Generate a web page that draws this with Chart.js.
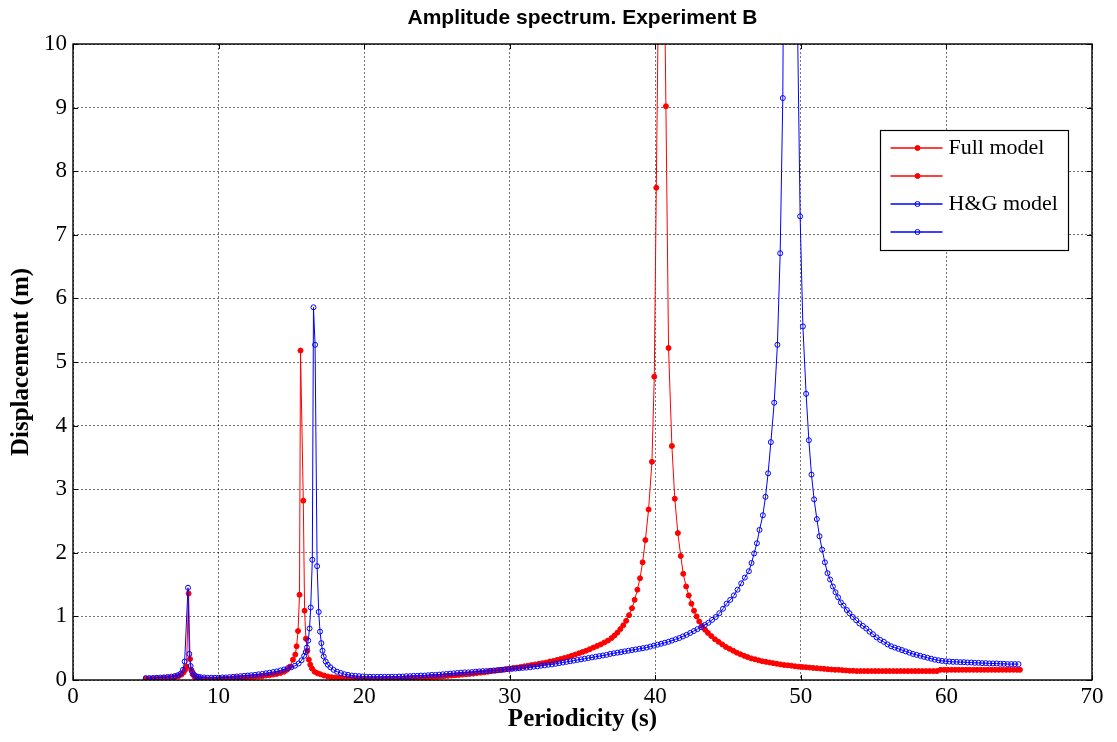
<!DOCTYPE html>
<html>
<head>
<meta charset="utf-8">
<title>Amplitude spectrum. Experiment B</title>
<script src="https://cdn.jsdelivr.net/npm/chart.js@4.4.1/dist/chart.umd.min.js"></script>
<style>
  html, body { margin: 0; padding: 0; background: #fff; }
  #wrap { width: 1117px; height: 742px; }
</style>
</head>
<body>
<div id="wrap"><canvas id="spectrum" width="1117" height="742"></canvas></div>
<script>

// Full model: periodicity (s) and displacement (m)
const fullPeriod = [
    5.00, 5.25, 5.50, 5.75, 6.00, 6.25, 6.50, 6.75, 7.00, 7.25,
    7.45, 7.60, 7.70, 7.80, 7.94, 8.04, 8.12, 8.22, 8.35, 8.50,
    8.75, 9.00, 9.25, 9.50, 9.75, 10.00, 10.25, 10.50, 10.75, 11.00,
    11.25, 11.50, 11.75, 12.00, 12.25, 12.50, 12.75, 13.00, 13.25, 13.50,
    13.75, 14.00, 14.25, 14.50, 14.70, 14.90, 15.11, 15.27, 15.36, 15.46,
    15.56, 15.63, 15.82, 15.91, 16.00, 16.10, 16.20, 16.30, 16.42, 16.60,
    16.80, 17.00, 17.25, 17.50, 17.75, 18.00, 18.25, 18.50, 18.75, 19.00,
    19.25, 19.50, 19.75, 20.00, 20.25, 20.50, 20.75, 21.00, 21.25, 21.50,
    21.75, 22.00, 22.25, 22.50, 22.75, 23.00, 23.25, 23.50, 23.75, 24.00,
    24.25, 24.50, 24.75, 25.00, 25.25, 25.50, 25.75, 26.00, 26.25, 26.50,
    26.75, 27.00, 27.25, 27.50, 27.75, 28.00, 28.25, 28.50, 28.75, 29.00,
    29.25, 29.50, 29.75, 30.00, 30.25, 30.50, 30.75, 31.00, 31.25, 31.50,
    31.75, 32.00, 32.25, 32.50, 32.75, 33.00, 33.25, 33.50, 33.75, 34.00,
    34.25, 34.50, 34.75, 35.00, 35.25, 35.50, 35.75, 36.00, 36.25, 36.50,
    36.75, 37.00, 37.20, 37.40, 37.60, 37.80, 38.00, 38.20, 38.40, 38.58,
    38.77, 38.95, 39.13, 39.32, 39.54, 39.77, 39.93, 40.07, 40.29, 40.51,
    40.73, 40.91, 41.14, 41.34, 41.55, 41.75, 41.92, 42.12, 42.30, 42.48,
    42.66, 42.84, 43.02, 43.22, 43.42, 43.62, 43.85, 44.10, 44.35, 44.60,
    44.85, 45.10, 45.35, 45.60, 45.85, 46.10, 46.35, 46.60, 46.85, 47.10,
    47.35, 47.60, 47.85, 48.10, 48.35, 48.60, 48.85, 49.10, 49.35, 49.60,
    49.85, 50.10, 50.35, 50.60, 50.85, 51.10, 51.35, 51.60, 51.85, 52.10,
    52.35, 52.60, 52.85, 53.10, 53.35, 53.60, 53.85, 54.10, 54.35, 54.60,
    54.85, 55.10, 55.35, 55.60, 55.85, 56.10, 56.35, 56.60, 56.85, 57.10,
    57.35, 57.60, 57.85, 58.10, 58.35, 58.60, 58.85, 59.10, 59.35, 59.60,
    59.85, 60.10, 60.35, 60.60, 60.85, 61.10, 61.35, 61.60, 61.85, 62.10,
    62.35, 62.60, 62.85, 63.10, 63.35, 63.60, 63.85, 64.10, 64.35, 64.60,
    64.85, 65.05
];

const fullAmp = [
    0.020, 0.020, 0.020, 0.025, 0.025, 0.030, 0.030, 0.035, 0.045, 0.060,
    0.085, 0.120, 0.160, 0.210, 1.360, 0.330, 0.160, 0.090, 0.050, 0.030,
    0.020, 0.015, 0.010, 0.010, 0.010, 0.010, 0.015, 0.020, 0.020, 0.025,
    0.030, 0.035, 0.035, 0.040, 0.045, 0.050, 0.055, 0.060, 0.070, 0.075,
    0.085, 0.095, 0.110, 0.130, 0.160, 0.210, 0.320, 0.400, 0.530, 0.770,
    1.340, 5.180, 2.820, 1.090, 0.650, 0.460, 0.320, 0.240, 0.180, 0.130,
    0.105, 0.090, 0.070, 0.055, 0.045, 0.040, 0.035, 0.030, 0.025, 0.020,
    0.020, 0.020, 0.015, 0.015, 0.015, 0.015, 0.015, 0.015, 0.015, 0.020,
    0.020, 0.020, 0.020, 0.025, 0.025, 0.030, 0.030, 0.035, 0.035, 0.040,
    0.040, 0.045, 0.050, 0.050, 0.055, 0.060, 0.065, 0.070, 0.075, 0.080,
    0.085, 0.090, 0.095, 0.100, 0.110, 0.115, 0.120, 0.130, 0.140, 0.145,
    0.155, 0.160, 0.170, 0.180, 0.190, 0.195, 0.205, 0.215, 0.225, 0.235,
    0.245, 0.255, 0.265, 0.275, 0.290, 0.300, 0.315, 0.330, 0.345, 0.360,
    0.380, 0.400, 0.420, 0.440, 0.460, 0.485, 0.510, 0.535, 0.560, 0.590,
    0.620, 0.660, 0.700, 0.745, 0.800, 0.860, 0.930, 1.020, 1.130, 1.260,
    1.420, 1.600, 1.850, 2.200, 2.680, 3.430, 4.770, 7.740, 12.30, 13.40,
    9.020, 5.220, 3.680, 2.850, 2.310, 1.950, 1.670, 1.470, 1.330, 1.200,
    1.090, 1.000, 0.920, 0.850, 0.790, 0.740, 0.690, 0.640, 0.600, 0.560,
    0.520, 0.490, 0.460, 0.430, 0.405, 0.380, 0.360, 0.340, 0.325, 0.310,
    0.295, 0.285, 0.275, 0.265, 0.255, 0.245, 0.235, 0.230, 0.225, 0.215,
    0.210, 0.205, 0.200, 0.195, 0.190, 0.185, 0.180, 0.175, 0.170, 0.165,
    0.160, 0.160, 0.155, 0.150, 0.145, 0.145, 0.140, 0.140, 0.140, 0.140,
    0.140, 0.140, 0.140, 0.140, 0.140, 0.140, 0.140, 0.140, 0.140, 0.140,
    0.140, 0.140, 0.140, 0.140, 0.140, 0.140, 0.140, 0.140, 0.140, 0.160,
    0.160, 0.160, 0.160, 0.160, 0.160, 0.160, 0.160, 0.160, 0.160, 0.160,
    0.160, 0.160, 0.160, 0.160, 0.160, 0.160, 0.160, 0.160, 0.160, 0.160,
    0.160, 0.160
];

// H&G model
const hgPeriod = [
    5.00, 5.25, 5.50, 5.75, 6.00, 6.25, 6.50, 6.75, 7.00, 7.20,
    7.40, 7.55, 7.67, 7.90, 7.99, 8.08, 8.18, 8.30, 8.45, 8.60,
    8.75, 9.00, 9.25, 9.50, 9.75, 10.00, 10.25, 10.50, 10.75, 11.00,
    11.25, 11.50, 11.75, 12.00, 12.25, 12.50, 12.75, 13.00, 13.25, 13.50,
    13.75, 14.00, 14.25, 14.50, 14.75, 15.00, 15.25, 15.50, 15.70, 15.88,
    15.99, 16.07, 16.16, 16.25, 16.33, 16.44, 16.52, 16.63, 16.77, 16.88,
    16.97, 17.06, 17.14, 17.22, 17.36, 17.50, 17.68, 17.90, 18.14, 18.40,
    18.65, 18.90, 19.15, 19.40, 19.65, 19.90, 20.15, 20.40, 20.65, 20.90,
    21.15, 21.40, 21.65, 21.90, 22.15, 22.40, 22.65, 22.90, 23.15, 23.40,
    23.65, 23.90, 24.15, 24.40, 24.65, 24.90, 25.15, 25.40, 25.65, 25.90,
    26.15, 26.40, 26.65, 26.90, 27.15, 27.40, 27.65, 27.90, 28.15, 28.40,
    28.65, 28.90, 29.15, 29.40, 29.65, 29.90, 30.15, 30.40, 30.65, 30.90,
    31.15, 31.40, 31.65, 31.90, 32.15, 32.40, 32.65, 32.90, 33.15, 33.40,
    33.65, 33.90, 34.15, 34.40, 34.65, 34.90, 35.15, 35.40, 35.65, 35.90,
    36.15, 36.40, 36.65, 36.90, 37.15, 37.40, 37.65, 37.90, 38.15, 38.40,
    38.65, 38.90, 39.15, 39.40, 39.65, 39.90, 40.15, 40.40, 40.65, 40.90,
    41.15, 41.40, 41.65, 41.90, 42.15, 42.40, 42.65, 42.90, 43.15, 43.40,
    43.65, 43.90, 44.15, 44.40, 44.65, 44.90, 45.15, 45.40, 45.65, 45.90,
    46.15, 46.43, 46.61, 46.79, 46.98, 47.16, 47.39, 47.57, 47.75, 47.94,
    48.17, 48.39, 48.58, 48.76, 48.95, 49.14, 49.33, 49.52, 49.76, 49.95,
    50.14, 50.36, 50.55, 50.73, 50.91, 51.10, 51.28, 51.46, 51.65, 51.83,
    52.01, 52.20, 52.38, 52.56, 52.75, 52.93, 53.16, 53.34, 53.57, 53.80,
    54.02, 54.26, 54.49, 54.72, 54.95, 55.20, 55.45, 55.70, 55.95, 56.20,
    56.45, 56.70, 56.95, 57.20, 57.45, 57.70, 57.95, 58.20, 58.45, 58.70,
    58.95, 59.20, 59.45, 59.70, 59.95, 60.20, 60.45, 60.70, 60.95, 61.20,
    61.45, 61.70, 61.95, 62.20, 62.45, 62.70, 62.95, 63.20, 63.45, 63.70,
    63.95, 64.20, 64.45, 64.70, 64.95
];

const hgAmp = [
    0.030, 0.030, 0.032, 0.035, 0.038, 0.042, 0.047, 0.053, 0.062, 0.075,
    0.100, 0.160, 0.290, 1.450, 0.410, 0.220, 0.130, 0.090, 0.060, 0.050,
    0.045, 0.040, 0.035, 0.035, 0.035, 0.035, 0.040, 0.040, 0.045, 0.050,
    0.055, 0.060, 0.065, 0.070, 0.075, 0.080, 0.090, 0.095, 0.105, 0.115,
    0.125, 0.135, 0.150, 0.165, 0.185, 0.200, 0.225, 0.260, 0.310, 0.380,
    0.440, 0.510, 0.620, 0.810, 1.140, 1.890, 5.860, 5.270, 1.790, 1.070,
    0.760, 0.580, 0.460, 0.370, 0.290, 0.240, 0.200, 0.160, 0.130, 0.110,
    0.090, 0.080, 0.070, 0.065, 0.060, 0.055, 0.050, 0.050, 0.050, 0.050,
    0.050, 0.050, 0.050, 0.050, 0.050, 0.055, 0.055, 0.060, 0.060, 0.065,
    0.065, 0.070, 0.070, 0.075, 0.080, 0.080, 0.085, 0.090, 0.095, 0.100,
    0.105, 0.110, 0.115, 0.120, 0.120, 0.125, 0.130, 0.135, 0.140, 0.140,
    0.145, 0.150, 0.155, 0.160, 0.165, 0.170, 0.175, 0.180, 0.185, 0.190,
    0.195, 0.200, 0.210, 0.215, 0.225, 0.230, 0.240, 0.245, 0.255, 0.265,
    0.275, 0.285, 0.295, 0.305, 0.315, 0.325, 0.335, 0.345, 0.355, 0.365,
    0.375, 0.385, 0.395, 0.410, 0.420, 0.430, 0.440, 0.450, 0.460, 0.470,
    0.480, 0.490, 0.500, 0.510, 0.525, 0.540, 0.555, 0.570, 0.585, 0.600,
    0.620, 0.640, 0.660, 0.685, 0.710, 0.740, 0.770, 0.800, 0.830, 0.865,
    0.900, 0.945, 0.990, 1.050, 1.120, 1.200, 1.260, 1.330, 1.420, 1.520,
    1.610, 1.710, 1.840, 1.990, 2.150, 2.360, 2.590, 2.880, 3.250, 3.740,
    4.360, 5.270, 6.710, 9.150, 17.00, 30.00, 45.00, 25.00, 10.50, 7.290,
    5.560, 4.500, 3.770, 3.230, 2.840, 2.530, 2.260, 2.050, 1.850, 1.680,
    1.580, 1.470, 1.380, 1.300, 1.220, 1.170, 1.100, 1.050, 0.990, 0.940,
    0.890, 0.850, 0.810, 0.760, 0.720, 0.670, 0.630, 0.600, 0.560, 0.530,
    0.510, 0.490, 0.470, 0.450, 0.430, 0.410, 0.395, 0.380, 0.365, 0.350,
    0.335, 0.320, 0.310, 0.300, 0.295, 0.290, 0.285, 0.285, 0.280, 0.280,
    0.275, 0.275, 0.270, 0.270, 0.265, 0.265, 0.260, 0.260, 0.260, 0.255,
    0.255, 0.250, 0.250, 0.250, 0.250
];

const xRange = [0, 70];
const yRange = [0, 10];
const legendLabels = ['Full model', '', 'H&G model', ''];
// which dataset each legend row copies its style from (0 = H&G, 1 = Full)
const legendSeries = [1, 1, 0, 0];

if (fullPeriod.length !== fullAmp.length || hgPeriod.length !== hgAmp.length) {
    console.error('period and amplitude arrays differ in length');
}

const serif = '"Liberation Serif", "Times New Roman", serif';

const toPoints = (xs, ys) => xs.map((x, i) => ({ x: x, y: ys[i] }));

// title centred on the axes box, like MATLAB does
const axesTitle = {
    id: 'axesTitle',
    afterDraw(chart) {
	const { ctx, chartArea } = chart;
	ctx.save();
	ctx.font = 'bold 21px "Liberation Sans", Arial, sans-serif';
	ctx.fillStyle = '#000';
	ctx.textAlign = 'center';
	ctx.textBaseline = 'middle';
	ctx.fillText('Amplitude spectrum. Experiment B', (chartArea.left + chartArea.right) / 2, 18);
	ctx.restore();
    }
};

// box round the axes with inward tick marks
const axesBox = {
    id: 'axesBox',
    afterDatasetsDraw(chart) {
	const { ctx, chartArea: a, scales } = chart;
	const len = 5;
	ctx.save();
	ctx.strokeStyle = '#000';
	ctx.lineWidth = 1;
	ctx.beginPath();
	scales.x.ticks.forEach(t => {
	    const px = Math.round(scales.x.getPixelForValue(t.value)) + 0.5;
	    ctx.moveTo(px, a.bottom); ctx.lineTo(px, a.bottom - len);
	    ctx.moveTo(px, a.top); ctx.lineTo(px, a.top + len);
	});
	scales.y.ticks.forEach(t => {
	    const py = Math.round(scales.y.getPixelForValue(t.value)) + 0.5;
	    ctx.moveTo(a.left, py); ctx.lineTo(a.left + len, py);
	    ctx.moveTo(a.right, py); ctx.lineTo(a.right - len, py);
	});
	ctx.stroke();
	ctx.lineWidth = 1.4;
	ctx.strokeRect(a.left, a.top, a.right - a.left, a.bottom - a.top);
	ctx.restore();
    }
};

const boxLegend = {
    id: 'boxLegend',
    afterDraw(chart) {
	const { ctx, chartArea } = chart;
	const x0 = Math.round(chartArea.right - 212) + 0.5;
	const y0 = Math.round(chartArea.top + 86) + 0.5;
	const w = 188, h = 120;
	ctx.save();
	ctx.fillStyle = '#fff';
	ctx.fillRect(x0, y0, w, h);
	ctx.strokeStyle = '#000';
	ctx.lineWidth = 1.2;
	ctx.strokeRect(x0, y0, w, h);
	legendLabels.forEach((label, i) => {
	    const ds = chart.data.datasets[legendSeries[i]];
	    const y = Math.round(y0 + 17 + i * 28.2);
	    ctx.strokeStyle = ds.borderColor;
	    ctx.lineWidth = 1.3;
	    ctx.beginPath();
	    ctx.moveTo(x0 + 10, y);
	    ctx.lineTo(x0 + 62, y);
	    ctx.stroke();
	    ctx.lineWidth = 1;
	    ctx.beginPath();
	    ctx.arc(x0 + 37, y, ds.pointRadius, 0, Math.PI * 2);
	    ctx.fillStyle = ds.pointBackgroundColor;
	    ctx.fill();
	    ctx.strokeStyle = ds.pointBorderColor;
	    ctx.stroke();
	    if (label) {
		ctx.fillStyle = '#000';
		ctx.font = '22px ' + serif;
		ctx.textAlign = 'left';
		ctx.textBaseline = 'middle';
		ctx.fillText(label, x0 + 68, y);
	    }
	});
	ctx.restore();
    }
};

makeChart = function() {

    const data = {
	datasets: [{
	    label: 'H&G model',
	    data: toPoints(hgPeriod, hgAmp),
	    borderColor: '#0000ff',
	    borderWidth: 1,
	    pointRadius: 2.5,
	    pointBorderWidth: 1,
	    pointBorderColor: '#0000ff',
	    pointBackgroundColor: 'rgba(255,255,255,0)',
	    tension: 0
	}, {
	    label: 'Full model',
	    data: toPoints(fullPeriod, fullAmp),
	    borderColor: '#ff0000',
	    borderWidth: 1,
	    pointRadius: 2.5,
	    pointBorderWidth: 1,
	    pointBorderColor: '#ff0000',
	    pointBackgroundColor: '#ff0000',
	    tension: 0
	}]
    };

    const gridStyle = {
	color: 'rgba(0,0,0,0.55)',
	lineWidth: 1,
	drawTicks: false
    };

    const options = {
	responsive: false,
	animation: false,
	devicePixelRatio: 1,
	layout: { padding: { top: 44, right: 25, left: 0, bottom: 0 } },
	plugins: {
	    legend: { display: false },
	    tooltip: { enabled: false },
	    title: { display: false }
	},
	scales: {
	    x: {
		type: 'linear',
		min: xRange[0],
		max: xRange[1],
		grid: gridStyle,
		border: { display: false, dash: [2, 2] },
		ticks: {
		    stepSize: 10,
		    padding: 3,
		    color: '#000',
		    font: { family: serif, size: 23 }
		},
		title: {
		    display: true,
		    text: 'Periodicity (s)',
		    color: '#000',
		    font: { family: serif, size: 25, weight: 'bold' },
		    padding: { top: 0, bottom: 7 }
		},
		afterFit: s => { s.height = 62; }
	    },
	    y: {
		min: yRange[0],
		max: yRange[1],
		grid: gridStyle,
		border: { display: false, dash: [2, 2] },
		ticks: {
		    stepSize: 1,
		    padding: 6,
		    color: '#000',
		    font: { family: serif, size: 23 }
		},
		title: {
		    display: true,
		    text: 'Displacement (m)',
		    color: '#000',
		    font: { family: serif, size: 25, weight: 'bold' },
		    padding: { top: 7, bottom: 0 }
		},
		afterFit: s => { s.width = 73; }
	    }
	}
    };

    const ctx = document.getElementById('spectrum').getContext('2d');

    new Chart(ctx, {
	type: 'line',
	data: data,
	options: options,
	plugins: [axesBox, boxLegend, axesTitle]
    });

};

window.addEventListener('load', (event) => {
    makeChart();
});
</script>
</body>
</html>
